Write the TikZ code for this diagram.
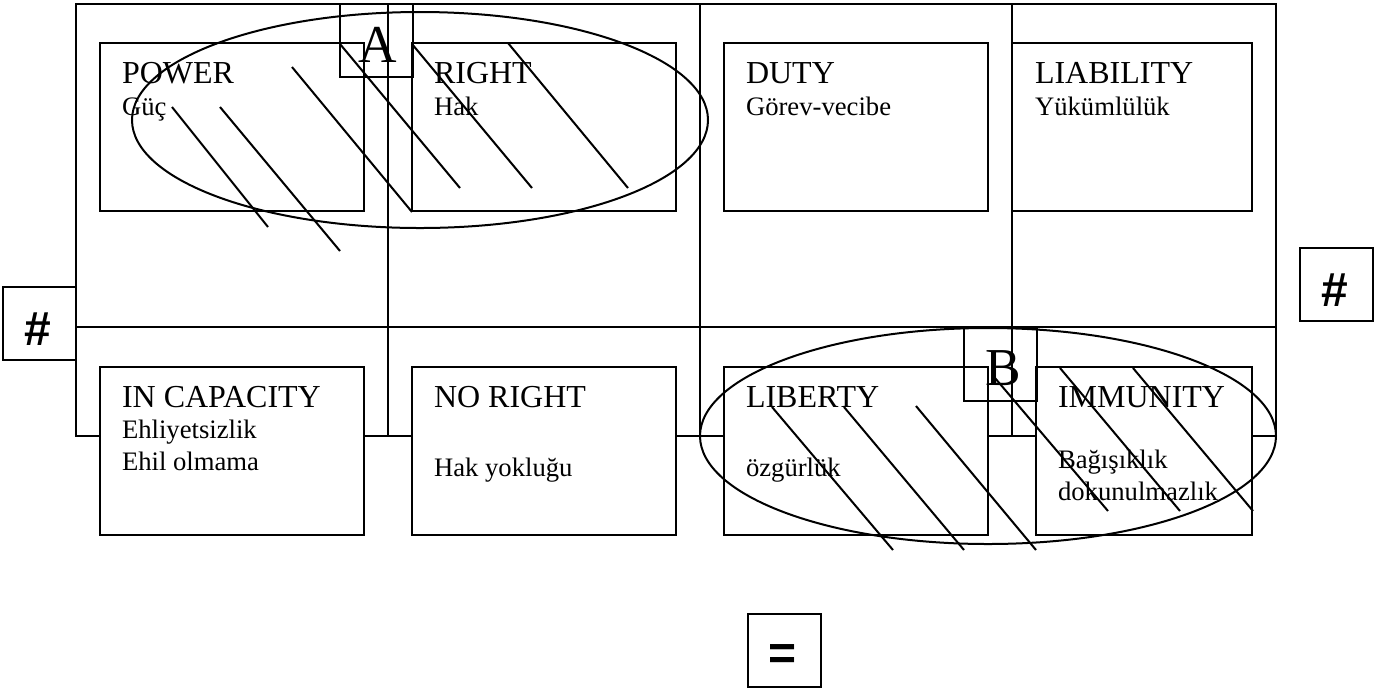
\documentclass[tikz,border=0pt]{standalone}
\usepackage{fontspec}
\setmainfont{Liberation Serif}
\newfontfamily\signfont{Liberation Sans}
\usepackage{tikz}

\begin{document}
\begin{tikzpicture}[x=0.375pt, y=-0.375pt, line width=0.75pt,
    cell/.style={draw, fill=white, rectangle, anchor=north west, inner sep=0pt, outer sep=0pt, minimum width=99pt, minimum height=63pt},
    head/.style={anchor=base west, inner sep=0pt, font=\fontsize{12}{14}\selectfont},
    sub/.style={anchor=base west, inner sep=0pt, font=\fontsize{10}{12}\selectfont},
    tag/.style={draw, rectangle, anchor=north west, inner sep=0pt, outer sep=0pt, minimum size=27.2pt},
    letter/.style={inner sep=0pt, font=\fontsize{20}{24}\selectfont},
    sign/.style={inner sep=0pt, font=\signfont\bfseries\fontsize{18}{22}\selectfont}]
            \useasboundingbox (0,0) rectangle (1391,691);

            % Frame of the table
            \draw (76,4) rectangle (1276,436);
            \draw (76,327) -- (1276,327);
            \draw (388,4) -- (388,436);
            \draw (700,4) -- (700,436);
            \draw (1012,4) -- (1012,436);

            % Upper row
            \node[cell] (power) at (100,43) {};
            \node[cell] (right) at (412,43) {};
            \node[cell] (duty) at (724,43) {};
            \node[cell, minimum width=90pt] (liability) at (1012,43) {};
            \node[head] (powerT) at (121,83) {POWER};
            \node[sub] (powerS) at (121,115) {Güç};
            \node[head] (rightT) at (433,83) {RIGHT};
            \node[sub] (rightS) at (433,115) {Hak};
            \node[head] (dutyT) at (745,83) {DUTY};
            \node[sub] (dutyS) at (745,115) {Görev-vecibe};
            \node[head] (liabilityT) at (1034,83) {LIABILITY};
            \node[sub] (liabilityS) at (1034,115) {Yükümlülük};

            % Lower row
            \node[cell] (incapacity) at (100,367) {};
            \node[cell] (noright) at (412,367) {};
            \node[cell] (liberty) at (724,367) {};
            \node[cell, minimum width=81pt] (immunity) at (1036,367) {};
            \node[head] (incapacityT) at (121,407) {IN CAPACITY};
            \node[sub] (incapacityS) at (121,438) {Ehliyetsizlik};
            \node[sub] (incapacityU) at (121,470) {Ehil olmama};
            \node[head] (norightT) at (433,407) {NO RIGHT};
            \node[sub] (norightS) at (433,476) {Hak yokluğu};
            \node[head] (libertyT) at (745,407) {LIBERTY};
            \node[sub] (libertyS) at (745,476) {özgürlük};
            \node[head] (immunityT) at (1057,407) {IMMUNITY};
            \node[sub] (immunityS) at (1057,468) {Bağışıklık};
            \node[sub] (immunityU) at (1057,500) {dokunulmazlık};

            % Group A
            \draw (420,120) ellipse [x radius=108pt, y radius=40.5pt];
            \draw (172,107) -- (268,227);
            \draw (220,107) -- (340,251);
            \draw (292,67) -- (412,212);
            \draw (340,44) -- (460,188);
            \draw (412,44) -- (532,188);
            \draw (508,43) -- (628,188);
            \node[tag] (boxA) at (340,4) {};
            \node[letter] (A) at (378,45) {A};

            % Group B
            \draw (988,436) ellipse [x radius=108pt, y radius=40.5pt];
            \draw (772,407) -- (893,550);
            \draw (844,407) -- (964,550);
            \draw (916,406) -- (1036,550);
            \draw (995,378) -- (1108,511);
            \draw (1060,368) -- (1180,511);
            \draw (1133,368) -- (1253,511);
            \node[tag] (boxB) at (964,328) {};
            \node[letter] (B) at (1003,368) {B};

            % Signs
            \node[tag] (hashL) at (3,287) {};
            \node[sign] at (38,329) {\#};
            \node[tag] (hashR) at (1300,248) {};
            \node[sign] at (1335,290) {\#};
            \node[tag] (equal) at (748,614) {};
            \node[sign] at (783,657) {=};
        \end{tikzpicture}
\end{document}
